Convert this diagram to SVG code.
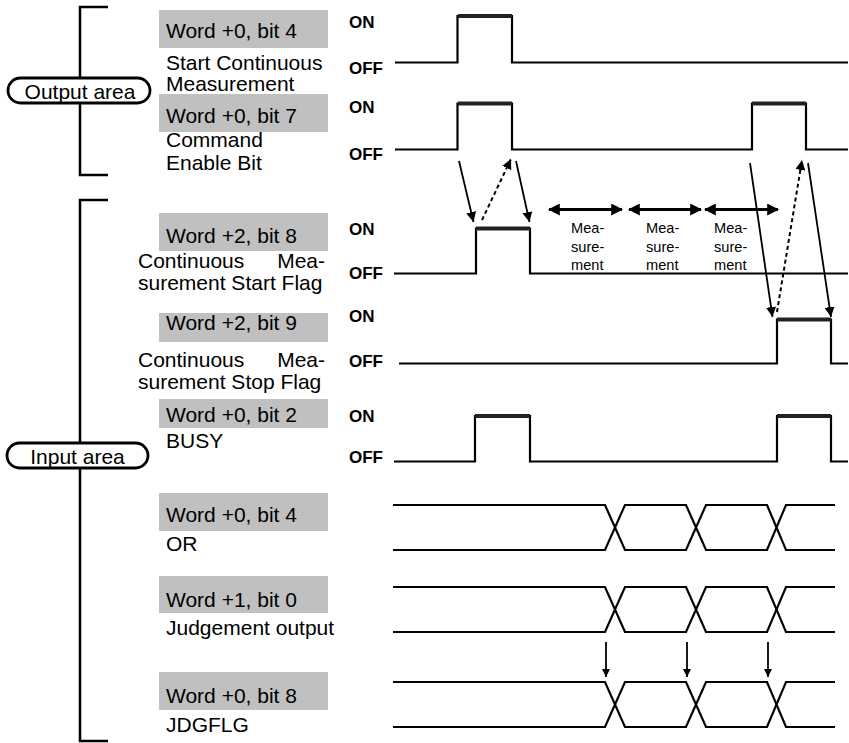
<svg xmlns="http://www.w3.org/2000/svg" width="849" height="743" viewBox="0 0 849 743">
<style>
text{font-family:"Liberation Sans",Arial,sans-serif;fill:#000}
.lbl{font-size:21px}
.lv{font-size:17px;font-weight:bold}
.ms{font-size:14.6px}
.box{fill:#c0c0c0}
.sig{fill:none;stroke:#000;stroke-width:2.2;stroke-linejoin:miter}
.on{stroke:#222;stroke-width:4}
.br{fill:none;stroke:#000;stroke-width:2.5}
.pill{fill:#fff;stroke:#000;stroke-width:2.8}
.ar{fill:none;stroke:#000;stroke-width:1.8}
.da{fill:none;stroke:#000;stroke-width:2;stroke-dasharray:4,3}
.dbl{fill:none;stroke:#000;stroke-width:3.2}
</style>
<defs>
<marker id="ah" viewBox="0 0 10 10" refX="10" refY="5" markerWidth="10" markerHeight="10" markerUnits="userSpaceOnUse" orient="auto">
<path d="M0,0 L10,5 L0,10 z" fill="#000"/>
</marker>
<marker id="ahs" viewBox="0 0 10 10" refX="10" refY="5" markerWidth="8" markerHeight="8" markerUnits="userSpaceOnUse" orient="auto">
<path d="M0,0 L10,5 L0,10 z" fill="#000"/>
</marker>
<marker id="ahb" viewBox="0 0 10 10" refX="9" refY="5" markerWidth="12" markerHeight="12" markerUnits="userSpaceOnUse" orient="auto-start-reverse">
<path d="M0,0 L10,5 L0,10 z" fill="#000"/>
</marker>
</defs>

<g id="output-area">
<path class="br" d="M108,7 H80 V175 H108"/>
<rect class="pill" x="8" y="78" width="142" height="25" rx="12.5"/>
<text class="lbl" x="80" y="99" text-anchor="middle">Output area</text>
</g>

<g id="input-area">
<path class="br" d="M108,200 H80 V741 H108"/>
<rect class="pill" x="7" y="443" width="141" height="25" rx="12.5"/>
<text class="lbl" x="77.5" y="464" text-anchor="middle">Input area</text>
</g>

<g id="sig-start-continuous">
<rect class="box" x="159" y="10" width="169" height="38"/>
<text class="lbl" x="166" y="38">Word +0, bit 4</text>
<text class="lbl" x="166" y="70">Start Continuous</text>
<text class="lbl" x="166" y="91">Measurement</text>
<text class="lv" x="349" y="28">ON</text>
<text class="lv" x="349" y="74">OFF</text>
<path class="sig" d="M395,62.5 H457.5 V16 H512 V62.5 H848"/>
<path class="on" d="M458,16 H512"/>
</g>

<g id="sig-command-enable">
<rect class="box" x="159" y="94" width="169" height="38"/>
<text class="lbl" x="166" y="123">Word +0, bit 7</text>
<text class="lbl" x="166" y="147">Command</text>
<text class="lbl" x="166" y="170">Enable Bit</text>
<text class="lv" x="349" y="113">ON</text>
<text class="lv" x="349" y="160">OFF</text>
<path class="sig" d="M395,149.5 H457.5 V103.5 H512 V149.5 H752 V103.5 H806 V149.5 H848"/>
<path class="on" d="M458,103.5 H512 M752,103.5 H806"/>
</g>

<g id="sig-start-flag">
<rect class="box" x="159" y="213" width="169" height="38"/>
<text class="lbl" x="166" y="243">Word +2, bit 8</text>
<text class="lbl" x="138" y="268">Continuous</text>
<text class="lbl" x="325" y="268" text-anchor="end">Mea-</text>
<text class="lbl" x="138" y="290">surement Start Flag</text>
<text class="lv" x="349" y="235">ON</text>
<text class="lv" x="349" y="279">OFF</text>
<path class="sig" d="M394,273.5 H476 V228.5 H530 V273.5 H848"/>
<path class="on" d="M476,228.5 H530"/>
</g>

<g id="sig-stop-flag">
<rect class="box" x="159" y="313" width="169" height="29"/>
<text class="lbl" x="166" y="330">Word +2, bit 9</text>
<text class="lbl" x="138" y="367">Continuous</text>
<text class="lbl" x="325" y="367" text-anchor="end">Mea-</text>
<text class="lbl" x="138" y="389">surement Stop Flag</text>
<text class="lv" x="349" y="322">ON</text>
<text class="lv" x="349" y="367">OFF</text>
<path class="sig" d="M399,363.5 H777 V319.5 H831 V363.5 H848"/>
<path class="on" d="M777,319.5 H831"/>
</g>

<g id="sig-busy">
<rect class="box" x="159" y="399" width="169" height="29"/>
<text class="lbl" x="166" y="422">Word +0, bit 2</text>
<text class="lbl" x="166" y="448">BUSY</text>
<text class="lv" x="349" y="422">ON</text>
<text class="lv" x="349" y="463">OFF</text>
<path class="sig" d="M394,461.5 H475 V416 H530 V461.5 H777 V416 H831 V461.5 H848"/>
<path class="on" d="M475,416 H530 M777,416 H831"/>
</g>

<g id="sig-or">
<rect class="box" x="159" y="493" width="169" height="38"/>
<text class="lbl" x="166" y="522">Word +0, bit 4</text>
<text class="lbl" x="166" y="551">OR</text>
<path class="sig" d="M393,505 H605 L625,550 H686 L706,505 H767 L786,550 H835"/>
<path class="sig" d="M393,550 H605 L625,505 H686 L706,550 H767 L786,505 H835"/>
</g>

<g id="sig-judgement">
<rect class="box" x="159" y="576" width="169" height="37"/>
<text class="lbl" x="166" y="607">Word +1, bit 0</text>
<text class="lbl" x="166" y="635">Judgement output</text>
<path class="sig" d="M393,587 H605 L625,632 H686 L706,587 H767 L786,632 H835"/>
<path class="sig" d="M393,632 H605 L625,587 H686 L706,632 H767 L786,587 H835"/>
</g>

<g id="sig-jdgflg">
<rect class="box" x="159" y="672" width="169" height="38"/>
<text class="lbl" x="166" y="703">Word +0, bit 8</text>
<text class="lbl" x="166" y="732">JDGFLG</text>
<path class="sig" d="M393,682 H605 L625,727 H686 L706,682 H767 L786,727 H835"/>
<path class="sig" d="M393,727 H605 L625,682 H686 L706,727 H767 L786,682 H835"/>
</g>

<g id="measurements">
<text class="ms" x="571" y="233">Mea-</text>
<text class="ms" x="571" y="252">sure-</text>
<text class="ms" x="571" y="270">ment</text>
<text class="ms" x="646" y="233">Mea-</text>
<text class="ms" x="646" y="252">sure-</text>
<text class="ms" x="646" y="270">ment</text>
<text class="ms" x="714" y="233">Mea-</text>
<text class="ms" x="714" y="252">sure-</text>
<text class="ms" x="714" y="270">ment</text>
</g>

<g id="connectors">
<path class="dbl" d="M549,209.5 H622" marker-start="url(#ahb)" marker-end="url(#ahb)"/>
<path class="dbl" d="M629,209.5 H701" marker-start="url(#ahb)" marker-end="url(#ahb)"/>
<path class="dbl" d="M705,209.5 H778" marker-start="url(#ahb)" marker-end="url(#ahb)"/>
<path class="ar" d="M459,161 L473.5,222" marker-end="url(#ah)"/>
<path class="da" d="M482,220 L511,159" marker-end="url(#ah)"/>
<path class="ar" d="M516,161 L529.5,222" marker-end="url(#ah)"/>
<path class="ar" d="M750,163 L772.5,317" marker-end="url(#ah)"/>
<path class="da" d="M777,312 L802,160" marker-end="url(#ah)"/>
<path class="ar" d="M808,163 L831,317" marker-end="url(#ah)"/>
<path class="ar" d="M606,642 V677" marker-end="url(#ahs)"/>
<path class="ar" d="M687,642 V677" marker-end="url(#ahs)"/>
<path class="ar" d="M768,642 V677" marker-end="url(#ahs)"/>
</g>
</svg>
